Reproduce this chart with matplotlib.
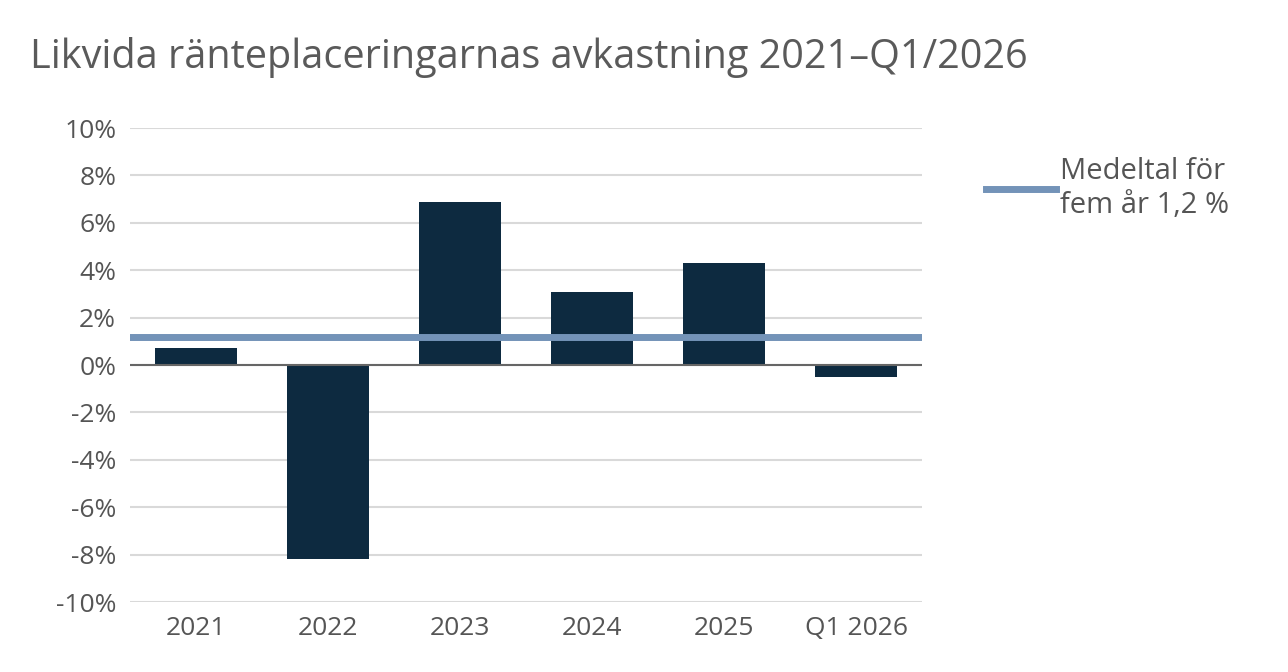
import matplotlib
matplotlib.use("Agg")
import matplotlib.pyplot as plt

categories = ["2021", "2022", "2023", "2024", "2025", "Q1 2026"]
values = [0.7, -8.2, 6.9, 3.1, 4.3, -0.5]
mean_value = 1.2
yticks = list(range(-10, 11, 2))

plt.rcParams['font.family'] = ['Open Sans', 'DejaVu Sans']
fig = plt.figure(figsize=(12.88, 6.72), dpi=100)
ax = fig.add_axes([0.101, 0.104, 0.615, 0.7055])
x = range(len(categories))
ax.bar(x, values, width=0.62, color="#0d2a40", zorder=3)
ax.axhline(0, color="#666666", lw=1.5, zorder=4)
ax.plot([-0.5, len(categories) - 0.5], [mean_value, mean_value], color="#7393b8", lw=5, zorder=5,
        label="Medeltal för\nfem år 1,2 %")
ax.set_xlim(-0.5, len(categories) - 0.5)
ax.set_ylim(-10, 10)
ax.set_yticks(yticks)
ax.set_yticklabels([f"{t}%" for t in yticks])
ax.set_xticks(list(x))
ax.set_xticklabels(categories)
ax.grid(axis="y", color="#d9d9d9", lw=1.5, zorder=0)
for s in ax.spines.values():
    s.set_visible(False)
ax.tick_params(length=0, labelsize=19, colors="#555555", pad=10)
fig.text(0.023, 0.915, "Likvida ränteplaceringarnas avkastning 2021–Q1/2026",
         fontsize=28.5, color="#5a5a5a", va="center")
fig.legend(loc="upper left", bbox_to_anchor=(0.745, 0.805), frameon=False, fontsize=21,
           labelcolor="#555555", handlelength=2.4, handletextpad=0.15, labelspacing=0.2)
fig.savefig("out.png", dpi=100)
